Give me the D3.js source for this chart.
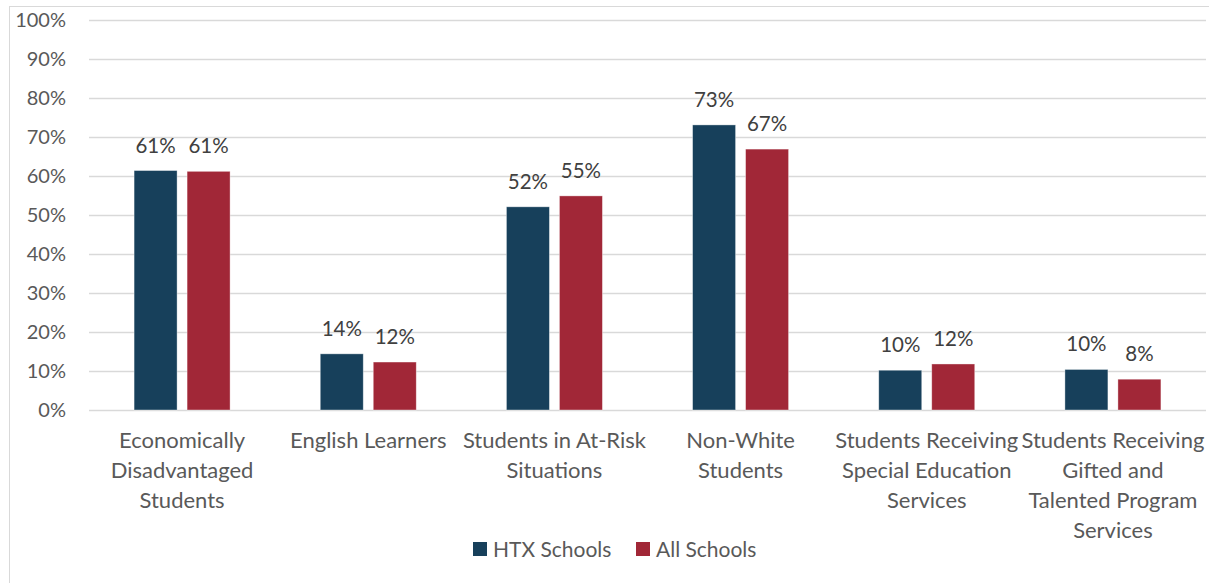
<!DOCTYPE html>
<html>
<head>
<meta charset="utf-8">
<script src="https://cdn.jsdelivr.net/npm/d3@7"></script>
<style>
  html, body { margin: 0; padding: 0; background: #fff; }
  svg { display: block; font-family: Lato, "Open Sans", sans-serif; }
</style>
</head>
<body>
<svg id="chart" width="1209" height="583"></svg>
<script>
// Category labels (one entry per wrapped line)
const categories = [
  ["Economically", "Disadvantaged", "Students"],
  ["English Learners"],
  ["Students in At-Risk", "Situations"],
  ["Non-White", "Students"],
  ["Students Receiving", "Special Education", "Services"],
  ["Students Receiving", "Gifted and", "Talented Program", "Services"]
];
const seriesNames = ["HTX Schools", "All Schools"];
const htxValues = [61.4, 14.4, 52.1, 73.1, 10.2, 10.4];
const allValues = [61.2, 12.3, 54.9, 66.9, 11.8, 7.9];
const htxLabels = ["61%", "14%", "52%", "73%", "10%", "10%"];
const allLabels = ["61%", "12%", "55%", "67%", "12%", "8%"];
const yTicks = [0, 10, 20, 30, 40, 50, 60, 70, 80, 90, 100];
const colors = ["#17405b", "#a12737"];

const svg = d3.select("#chart");
const textColor = "#595959";
const gridColor = "#d9d9d9";

// Chart area outline
svg.append("rect")
  .attr("x", 9.5).attr("y", 6.5)
  .attr("width", 1209).attr("height", 590)
  .attr("fill", "none").attr("stroke", gridColor).attr("stroke-width", 1);

const plot = { left: 89, right: 1206, top: 20, bottom: 410 };

const catKeys = categories.map((c, i) => i);
const x0 = d3.scaleBand().domain(catKeys).range([plot.left, plot.right]).padding(0);
const x1 = d3.scaleBand().domain(seriesNames).range([0, 96]).paddingInner(10 / 53).paddingOuter(0);
const y = d3.scaleLinear().domain([0, 100]).range([plot.bottom, plot.top]);

// Horizontal gridlines
svg.append("g")
  .selectAll("line")
  .data(yTicks)
  .join("line")
  .attr("x1", plot.left).attr("x2", plot.right)
  .attr("y1", d => Math.round(y(d)) + 0.5)
  .attr("y2", d => Math.round(y(d)) + 0.5)
  .attr("stroke", gridColor).attr("stroke-width", 1.5);

// Y axis tick labels
const yAxis = d3.axisLeft(y).tickValues(yTicks).tickFormat(d => d + "%").tickSize(0).tickPadding(0);
const yg = svg.append("g").attr("transform", `translate(${66},0)`).call(yAxis);
yg.select(".domain").remove();
yg.selectAll("text")
  .attr("fill", textColor)
  .style("font-size", "20px")
  .style("font-family", "Lato, 'Open Sans', sans-serif");

// Bars
const rows = catKeys.map(i => ({
  i,
  values: [
    { s: seriesNames[0], v: htxValues[i], label: htxLabels[i], c: colors[0] },
    { s: seriesNames[1], v: allValues[i], label: allLabels[i], c: colors[1] }
  ]
}));

const groups = svg.append("g")
  .selectAll("g")
  .data(rows)
  .join("g")
  .attr("transform", d => `translate(${x0(d.i) + x0.bandwidth() / 2 - 48},0)`);

groups.selectAll("rect")
  .data(d => d.values)
  .join("rect")
  .attr("x", d => x1(d.s))
  .attr("y", d => y(d.v))
  .attr("width", x1.bandwidth())
  .attr("height", d => y(0) - y(d.v))
  .attr("fill", d => d.c)
  .attr("stroke", "#ffffff").attr("stroke-opacity", 0.5).attr("stroke-width", 0.75);

// Data labels
groups.selectAll("text")
  .data(d => d.values)
  .join("text")
  .attr("x", d => x1(d.s) + x1.bandwidth() / 2)
  .attr("y", d => y(d.v) - 18)
  .attr("text-anchor", "middle")
  .attr("fill", "#404040")
  .style("font-size", "20.5px")
  .text(d => d.label);

// Category labels
const catG = svg.append("g")
  .selectAll("text")
  .data(rows)
  .join("text")
  .attr("x", d => x0(d.i) + x0.bandwidth() / 2)
  .attr("y", 448)
  .attr("text-anchor", "middle")
  .attr("fill", textColor)
  .style("font-size", "22px");
catG.selectAll("tspan")
  .data(d => categories[d.i])
  .join("tspan")
  .attr("x", function () { return d3.select(this.parentNode).attr("x"); })
  .attr("dy", (d, j) => j === 0 ? 0 : 30)
  .text(d => d);

// Legend
const legendItems = [
  { name: seriesNames[0], c: colors[0], x: 473 },
  { name: seriesNames[1], c: colors[1], x: 636 }
];
const lg = svg.append("g")
  .selectAll("g")
  .data(legendItems)
  .join("g")
  .attr("transform", d => `translate(${d.x},542)`);
lg.append("rect").attr("width", 14).attr("height", 14).attr("fill", d => d.c);
lg.append("text")
  .attr("x", 20).attr("y", 14.5)
  .attr("fill", textColor)
  .style("font-size", "21px")
  .text(d => d.name);
</script>
</body>
</html>
